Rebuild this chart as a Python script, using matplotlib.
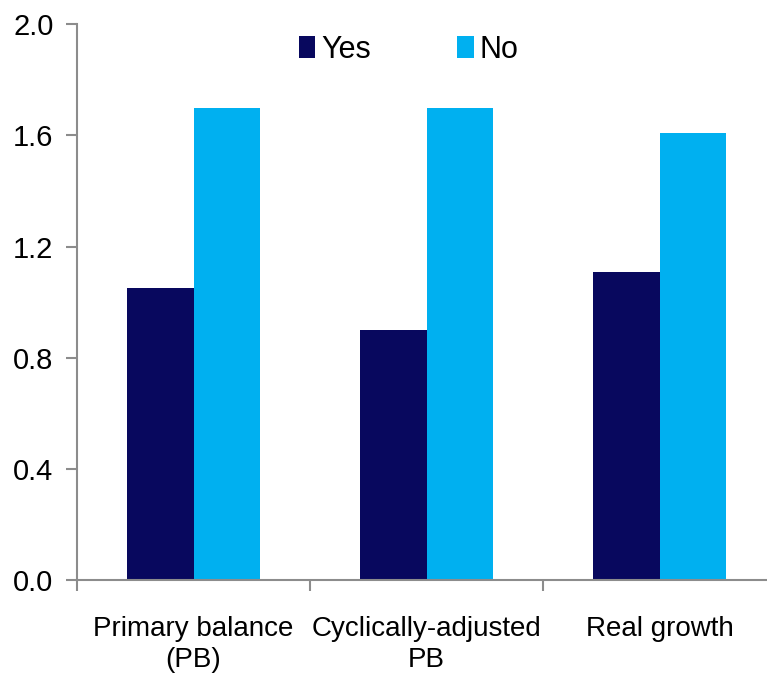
import matplotlib
matplotlib.use("Agg")
import matplotlib.pyplot as plt
import numpy as np

plt.rcParams['font.family'] = ['Liberation Sans', 'DejaVu Sans']

categories = ["Primary balance\n(PB)", "Cyclically-adjusted\nPB", "Real growth"]
yes_values = [1.05, 0.90, 1.11]
no_values = [1.70, 1.70, 1.61]
series_names = ["Yes", "No"]
y_ticks = [0.0, 0.4, 0.8, 1.2, 1.6, 2.0]

yes_color = "#08085E"
no_color = "#00B0F0"
axis_color = "#8C8C8C"

fig = plt.figure(figsize=(7.67, 6.82), dpi=100)
ax = fig.add_axes([77 / 767, 102 / 682, 699.5 / 767, 555.7 / 682])

x = np.arange(len(categories))
w = 0.285
ax.bar(x - w / 2, yes_values, w, color=yes_color, label=series_names[0])
ax.bar(x + w / 2, no_values, w, color=no_color, label=series_names[1])

ax.set_xlim(-0.5, len(categories) - 0.5)
ax.set_ylim(0, 2.0)
ax.set_yticks(y_ticks)
ax.set_yticklabels([f"{v:.1f}" for v in y_ticks])

ax.set_xticks(x)
ax.set_xticklabels(categories, linespacing=1.25)
ax.set_xticks(np.arange(len(categories) + 1) - 0.5, minor=True)

for s in ["top", "right"]:
    ax.spines[s].set_visible(False)
for s in ["left", "bottom"]:
    ax.spines[s].set_color(axis_color)
    ax.spines[s].set_linewidth(1.5)

ax.tick_params(axis="y", direction="out", length=8, width=1.5, color=axis_color,
               labelsize=21, pad=9)
ax.tick_params(axis="x", which="major", length=0, labelsize=20, pad=26)
ax.tick_params(axis="x", which="minor", direction="out", length=8, width=1.5,
               color=axis_color)

leg = ax.legend(loc="center", bbox_to_anchor=(0.474, 0.954), ncol=2, frameon=False,
                fontsize=22, handlelength=0.55, handleheight=0.7, handletextpad=0.2,
                columnspacing=2.8)

fig.savefig("out.png", dpi=100)
